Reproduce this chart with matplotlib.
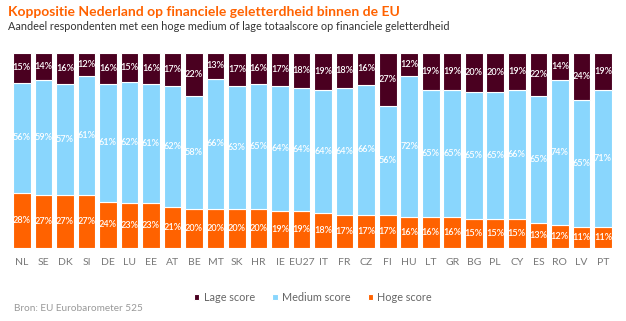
import numpy as np
import matplotlib.pyplot as plt

plt.rcParams['font.family'] = ['Lato', 'DejaVu Sans']

landen = ["NL", "SE", "DK", "SI", "DE", "LU", "EE", "AT", "BE", "MT", "SK", "HR", "IE", "EU27",
          "IT", "FR", "CZ", "FI", "HU", "LT", "GR", "BG", "PL", "CY", "ES", "RO", "LV", "PT"]
hoge = [28, 27, 27, 27, 24, 23, 23, 21, 20, 20, 20, 20, 19, 19,
        18, 17, 17, 17, 16, 16, 16, 15, 15, 15, 13, 12, 11, 11]
medium = [56, 59, 57, 61, 61, 62, 61, 62, 58, 66, 63, 65, 64, 64,
          64, 64, 66, 56, 72, 65, 65, 65, 65, 66, 65, 74, 65, 71]
lage = [15, 14, 16, 12, 16, 15, 16, 17, 22, 13, 17, 16, 17, 18,
        19, 18, 16, 27, 12, 19, 19, 20, 20, 19, 22, 14, 24, 19]

c_lage = "#4a0020"
c_medium = "#89d6fd"
c_hoge = "#ff6200"

hoge = np.array(hoge, float)
medium = np.array(medium, float)
lage = np.array(lage, float)
totaal = hoge + medium + lage
# normalise to 100% stacks
h = hoge / totaal * 100
m = medium / totaal * 100
l = lage / totaal * 100

fig = plt.figure(figsize=(6.26, 3.21), dpi=100)
ax = fig.add_axes([0.016, 0.227, 0.966, 0.608])

x = np.arange(len(landen))
w = 0.82
ax.bar(x, h, w, color=c_hoge, edgecolor="white", linewidth=0.8, label="Hoge score")
ax.bar(x, m, w, bottom=h, color=c_medium, edgecolor="white", linewidth=0.8, label="Medium score")
ax.bar(x, l, w, bottom=h + m, color=c_lage, edgecolor="white", linewidth=0.8, label="Lage score")

lbl = dict(ha="center", va="center", color="white", fontsize=6.6, fontweight="semibold")
for i in range(len(landen)):
    ax.text(x[i], h[i] / 2, f"{int(hoge[i])}%", **lbl)
    ax.text(x[i], h[i] + m[i] / 2, f"{int(medium[i])}%", **lbl)
    ax.text(x[i], h[i] + m[i] + l[i] / 2, f"{int(lage[i])}%", **lbl)

ax.set_xlim(-0.55, len(landen) - 0.45)
ax.set_ylim(0, 100)
ax.set_xticks(x)
ax.set_xticklabels(landen, fontsize=7.5, color="#777777")
ax.tick_params(axis="x", length=0, pad=7)
ax.set_yticks([])
for s in ax.spines.values():
    s.set_visible(False)

handles, labels = ax.get_legend_handles_labels()
leg = fig.legend(handles[::-1], labels[::-1], loc="center", bbox_to_anchor=(0.5, 0.073),
                 ncol=3, frameon=False, fontsize=7.8, handlelength=0.5, handleheight=0.5,
                 handletextpad=0.4, columnspacing=1.6)
for t in leg.get_texts():
    t.set_color("#666666")

fig.text(0.013, 0.962, "Koppositie Nederland op financiele geletterdheid binnen de EU",
         fontsize=10, fontweight="bold", color=c_hoge, va="center")
fig.text(0.013, 0.918, "Aandeel respondenten met een hoge medium of lage totaalscore op financiele geletterdheid",
         fontsize=7.8, color="#333333", va="center")
fig.text(0.022, 0.04, "Bron: EU Eurobarometer 525", fontsize=7.2, color="#999999", va="center")

fig.savefig("out.png", dpi=100)
